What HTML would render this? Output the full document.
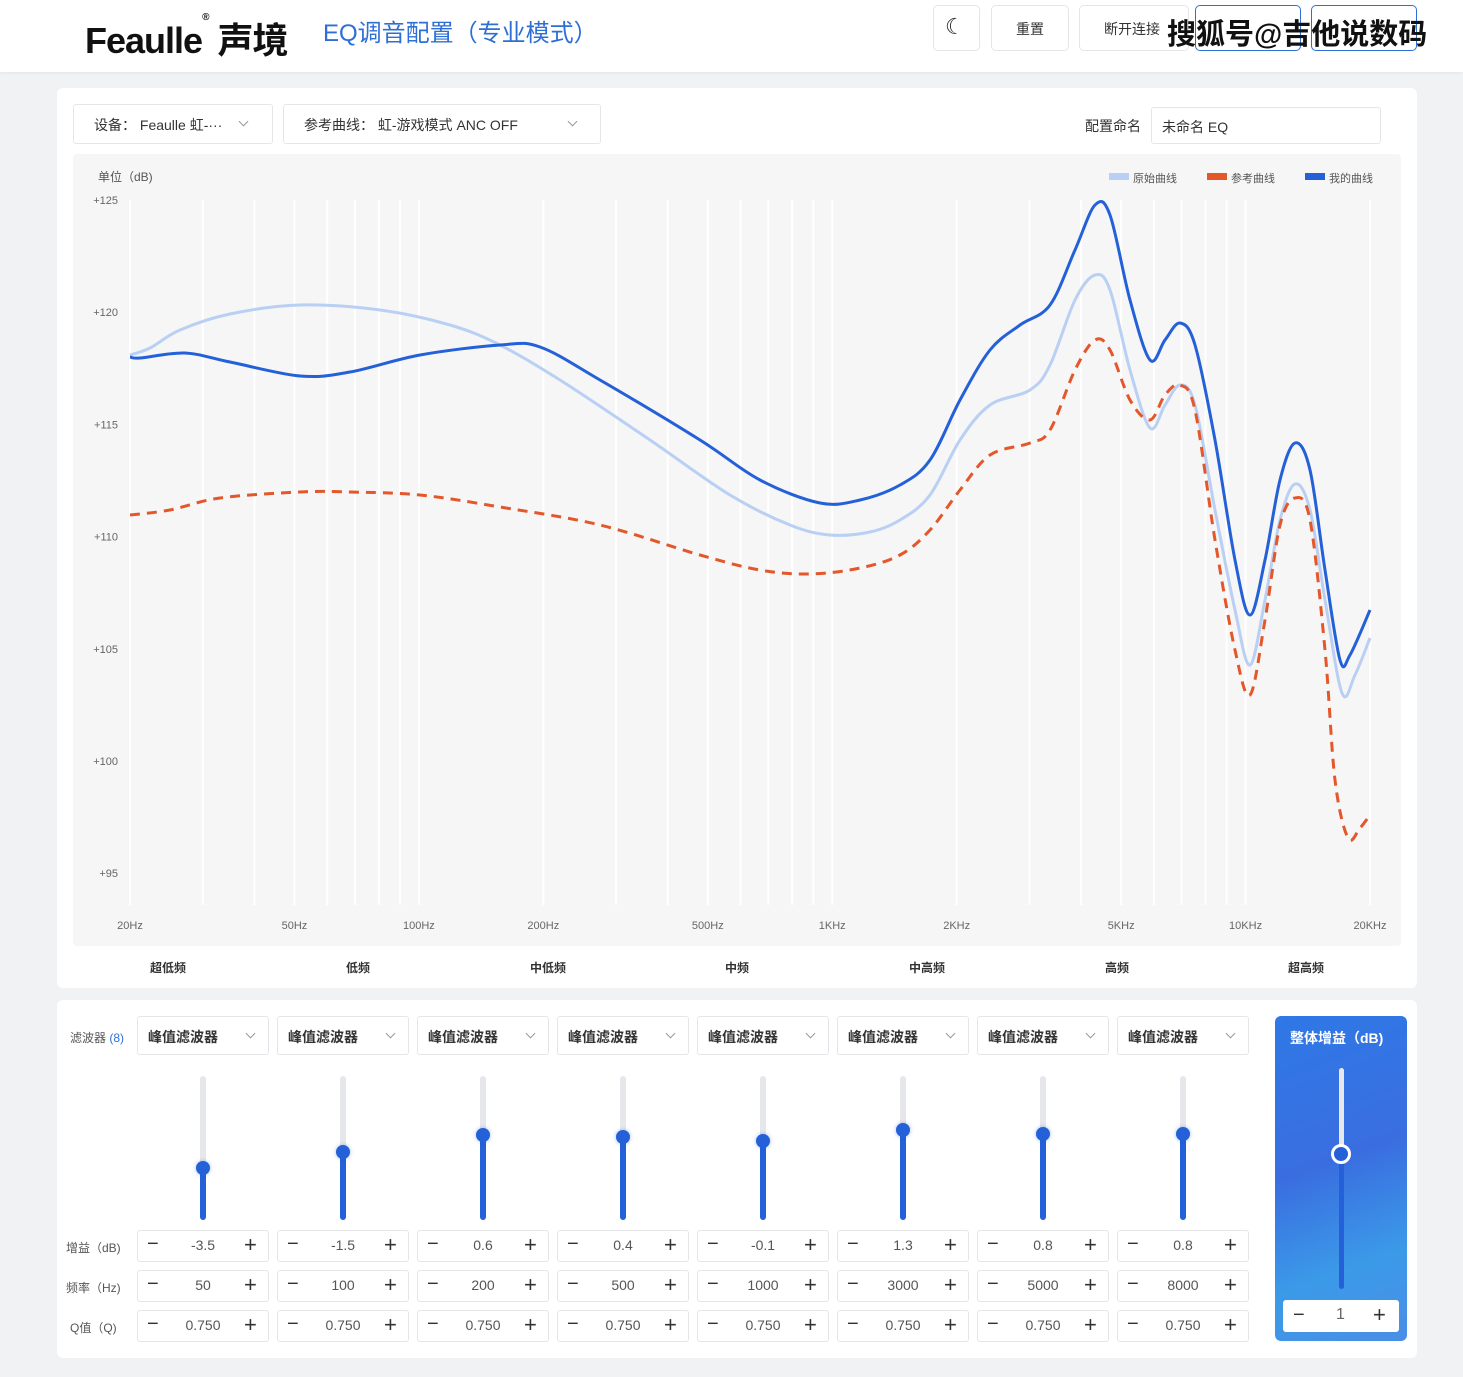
<!DOCTYPE html>
<html><head><meta charset="utf-8"><style>
*{margin:0;padding:0;box-sizing:border-box}
body{width:1463px;height:1377px;background:#f1f2f4;font-family:"Liberation Sans","Noto Sans CJK SC",sans-serif;position:relative;overflow:hidden;color:#333}
.a{position:absolute}
.box{position:absolute;background:#fff;border:1px solid #e4e6ea;border-radius:3px}
.t{position:absolute;white-space:nowrap}
.chev{position:absolute;width:7px;height:7px;border-right:1px solid #999;border-bottom:1px solid #999;transform:rotate(45deg)}
</style></head><body>
<div class="a" style="left:0;top:0;width:1463px;height:72px;background:#fff;box-shadow:0 1px 3px rgba(0,0,0,.06)"></div>
<div class="t" style="left:85px;top:12px;font-size:36px;font-weight:bold;color:#111;letter-spacing:-1px">Feaulle<span style="font-size:10px;vertical-align:top">®</span> 声境</div>
<div class="t" style="left:323px;top:13px;font-size:24px;color:#2e6fd6">EQ调音配置（专业模式）</div>
<div class="box" style="left:933px;top:5px;width:47px;height:46px;border-radius:5px"></div>
<div class="t" style="left:945px;top:14px;font-size:22px;color:#222">☾</div>
<div class="box" style="left:991px;top:5px;width:78px;height:46px;border-radius:5px"></div>
<div class="t" style="left:1016px;top:19px;font-size:14px">重置</div>
<div class="box" style="left:1079px;top:5px;width:110px;height:46px;border-radius:5px"></div>
<div class="t" style="left:1104px;top:19px;font-size:14px">断开连接</div>
<div class="box" style="left:1195px;top:5px;width:106px;height:46px;border-radius:5px;border-color:#2e6fd6"></div>
<div class="box" style="left:1311px;top:5px;width:106px;height:46px;border-radius:5px;border-color:#2e6fd6"></div>
<div class="t" style="left:1167px;top:11px;font-size:29px;color:#111;font-weight:bold">搜狐号@吉他说数码</div>

<div class="a" style="left:57px;top:88px;width:1360px;height:900px;background:#fff;border-radius:6px"></div>
<div class="box" style="left:73px;top:104px;width:200px;height:40px"></div>
<div class="t" style="left:94px;top:115px;font-size:14px">设备：  Feaulle 虹-···</div>
<div class="chev" style="left:240px;top:118px"></div>
<div class="box" style="left:283px;top:104px;width:318px;height:40px"></div>
<div class="t" style="left:304px;top:115px;font-size:14px">参考曲线：  虹-游戏模式 ANC OFF</div>
<div class="chev" style="left:569px;top:118px"></div>
<div class="t" style="left:1085px;top:116px;font-size:14px">配置命名</div>
<div class="box" style="left:1151px;top:107px;width:230px;height:37px"></div>
<div class="t" style="left:1162px;top:117px;font-size:14px">未命名 EQ</div>

<div class="a" style="left:73px;top:154px;width:1328px;height:792px;background:#f6f6f6;border-radius:4px"></div>
<div class="t" style="left:98px;top:168px;font-size:12px;color:#555">单位（dB)</div>
<div class="a" style="left:1109px;top:173px;width:20px;height:7px;background:#b9d0f4"></div>
<div class="t" style="left:1133px;top:170px;font-size:11px;color:#555">原始曲线</div>
<div class="a" style="left:1207px;top:173px;width:20px;height:7px;background:#e3572a"></div>
<div class="t" style="left:1231px;top:170px;font-size:11px;color:#555">参考曲线</div>
<div class="a" style="left:1305px;top:173px;width:20px;height:7px;background:#2460d8"></div>
<div class="t" style="left:1329px;top:170px;font-size:11px;color:#555">我的曲线</div>

<svg class="a" style="left:0;top:0" width="1463" height="1000" id="ch"></svg>

<div class="a" style="left:57px;top:1000px;width:1360px;height:358px;background:#fff;border-radius:6px"></div>
<div class="t" style="left:70px;top:1029px;font-size:12px;color:#555">滤波器 <span style="color:#2e6fd6">(8)</span></div>
<div class="t" style="left:66px;top:1239px;font-size:12px;color:#555">增益（dB)</div>
<div class="t" style="left:66px;top:1279px;font-size:12px;color:#555">频率（Hz)</div>
<div class="t" style="left:70px;top:1319px;font-size:12px;color:#555">Q值（Q)</div>
<div id="cols"></div>

<div class="a" style="left:1275px;top:1016px;width:132px;height:325px;border-radius:6px;background:linear-gradient(160deg,#2f78e6 0%,#3a6ee0 45%,#3b9ae8 75%,#4a8ee6 100%)"></div>
<div class="t" style="left:1290px;top:1028px;font-size:14px;color:#fff;font-weight:bold">整体增益（dB)</div>
<div class="a" style="left:1339px;top:1068px;width:5px;height:90px;background:#e6e8ee;border-radius:3px"></div>
<div class="a" style="left:1339px;top:1154px;width:5px;height:135px;background:#2460d8;border-radius:3px"></div>
<div class="a" style="left:1331px;top:1144px;width:20px;height:20px;border-radius:50%;background:#2460d8;border:3px solid #fff"></div>
<div class="a" style="left:1283px;top:1300px;width:116px;height:32px;background:#fff;border-radius:3px"></div>
<div class="t" style="left:1293px;top:1304px;font-size:20px">−</div>
<div class="t" style="left:1336px;top:1306px;font-size:16px;color:#666">1</div>
<div class="t" style="left:1373px;top:1302px;font-size:22px">+</div>

<script>
var s='',ns='';
var X=f=>130+Math.log10(f/20)*1240/3;
var fs=[];
[20,30,40,50,60,70,80,90,100,200,300,400,500,600,700,800,900,1000,2000,3000,4000,5000,6000,7000,8000,9000,10000,20000].forEach(f=>{var x=X(f);s+='<line x1="'+x+'" y1="200" x2="'+x+'" y2="905" stroke="#fff" stroke-width="2"/>';});
for(var i=0;i<7;i++){var y=200+i*112.2;s+='<text x="118" y="'+(y+4)+'" font-size="11" fill="#666" text-anchor="end">+'+(125-5*i)+'</text>';}
[[20,'20Hz'],[50,'50Hz'],[100,'100Hz'],[200,'200Hz'],[500,'500Hz'],[1000,'1KHz'],[2000,'2KHz'],[5000,'5KHz'],[10000,'10KHz'],[20000,'20KHz']].forEach(a=>{s+='<text x="'+X(a[0])+'" y="929" font-size="11" fill="#666" text-anchor="middle">'+a[1]+'</text>';});
[['超低频',168],['低频',358],['中低频',548],['中频',737],['中高频',927],['高频',1117],['超高频',1306]].forEach(a=>{s+='<text x="'+a[1]+'" y="972" font-size="12" fill="#333" text-anchor="middle" font-weight="bold">'+a[0]+'</text>';});
function path(p){var d='M'+p[0][0]+','+p[0][1];for(var i=0;i<p.length-1;i++){var p0=p[i-1]||p[i],p1=p[i],p2=p[i+1],p3=p[i+2]||p2;d+=' C'+(p1[0]+(p2[0]-p0[0])/6)+','+(p1[1]+(p2[1]-p0[1])/6)+' '+(p2[0]-(p3[0]-p1[0])/6)+','+(p2[1]-(p3[1]-p1[1])/6)+' '+p2[0]+','+p2[1];}return d;}
var lb=[[130,355],[150,348],[180,330],[230,314],[300,305],[380,310],[450,325],[500,345],[560,380],[650,440],[730,495],[790,525],[830,535],[870,532],[900,520],[930,495],[960,440],[990,405],[1030,390],[1050,365],[1075,300],[1095,275],[1110,290],[1130,370],[1150,428],[1165,405],[1180,385],[1195,405],[1215,510],[1235,610],[1250,665],[1265,600],[1280,520],[1295,484],[1310,510],[1325,600],[1342,693],[1355,675],[1370,638]];
var or=[[130,515],[170,510],[220,498],[300,492],[350,492],[420,495],[500,507],[600,525],[700,555],[760,570],[810,574],[860,568],[900,555],[930,530],[960,490],[990,455],[1030,443],[1050,430],[1075,370],[1095,340],[1110,350],[1130,400],[1150,420],[1165,395],[1180,385],[1195,410],[1215,540],[1235,650],[1250,695],[1265,620],[1280,525],[1295,498],[1310,520],[1325,650],[1335,780],[1348,838],[1360,828],[1370,815]];
var db=[[130,357],[140,358],[185,353],[230,362],[300,376],[350,372],[420,355],[500,345],[540,347],[600,380],[700,440],[760,480],[820,503],[860,500],[900,485],[930,460],[960,400],[990,350],[1020,325],[1050,305],[1075,250],[1095,205],[1110,215],[1130,300],[1150,360],[1165,340],[1180,323],[1195,345],[1215,440],[1235,560],[1250,615],[1265,560],[1280,480],[1295,443],[1310,470],[1325,570],[1340,660],[1350,655],[1370,610]];
s+='<path d="'+path(lb)+'" fill="none" stroke="#b9d0f4" stroke-width="3"/>';
s+='<path d="'+path(or)+'" fill="none" stroke="#e3572a" stroke-width="3" stroke-dasharray="10,7"/>';
s+='<path d="'+path(db)+'" fill="none" stroke="#2460d8" stroke-width="3"/>';
document.getElementById('ch').innerHTML=s;
var g=['-3.5','-1.5','0.6','0.4','-0.1','1.3','0.8','0.8'],fq=['50','100','200','500','1000','3000','5000','8000'],ky=[1168,1152,1135,1137,1141,1130,1134,1134],h='';
for(var i=0;i<8;i++){var L=137+140*i,c=L+66;
h+='<div class="box" style="left:'+L+'px;top:1016px;width:132px;height:39px"></div><div class="t" style="left:'+(L+11)+'px;top:1027px;font-size:14px;font-weight:bold">峰值滤波器</div><div class="chev" style="left:'+(L+110)+'px;top:1030px"></div>';
h+='<div class="a" style="left:'+(c-3)+'px;top:1076px;width:6px;height:144px;background:#e6e7eb;border-radius:3px"></div><div class="a" style="left:'+(c-3)+'px;top:'+ky[i]+'px;width:6px;height:'+(1220-ky[i])+'px;background:#2460d8;border-radius:3px"></div><div class="a" style="left:'+(c-7)+'px;top:'+(ky[i]-7)+'px;width:14px;height:14px;border-radius:50%;background:#2460d8;box-shadow:0 0 4px rgba(36,96,216,.4)"></div>';
[[1230,g[i]],[1270,fq[i]],[1310,'0.750']].forEach(r=>{h+='<div class="box" style="left:'+L+'px;top:'+r[0]+'px;width:132px;height:32px"></div><div class="t" style="left:'+(L+10)+'px;top:'+(r[0]+3)+'px;font-size:20px">−</div><div class="t" style="left:'+L+'px;width:132px;text-align:center;top:'+(r[0]+7)+'px;font-size:14px;color:#555">'+r[1]+'</div><div class="t" style="left:'+(L+107)+'px;top:'+(r[0]+2)+'px;font-size:22px">+</div>';});}
document.getElementById('cols').innerHTML=h;
</script>
</body></html>
